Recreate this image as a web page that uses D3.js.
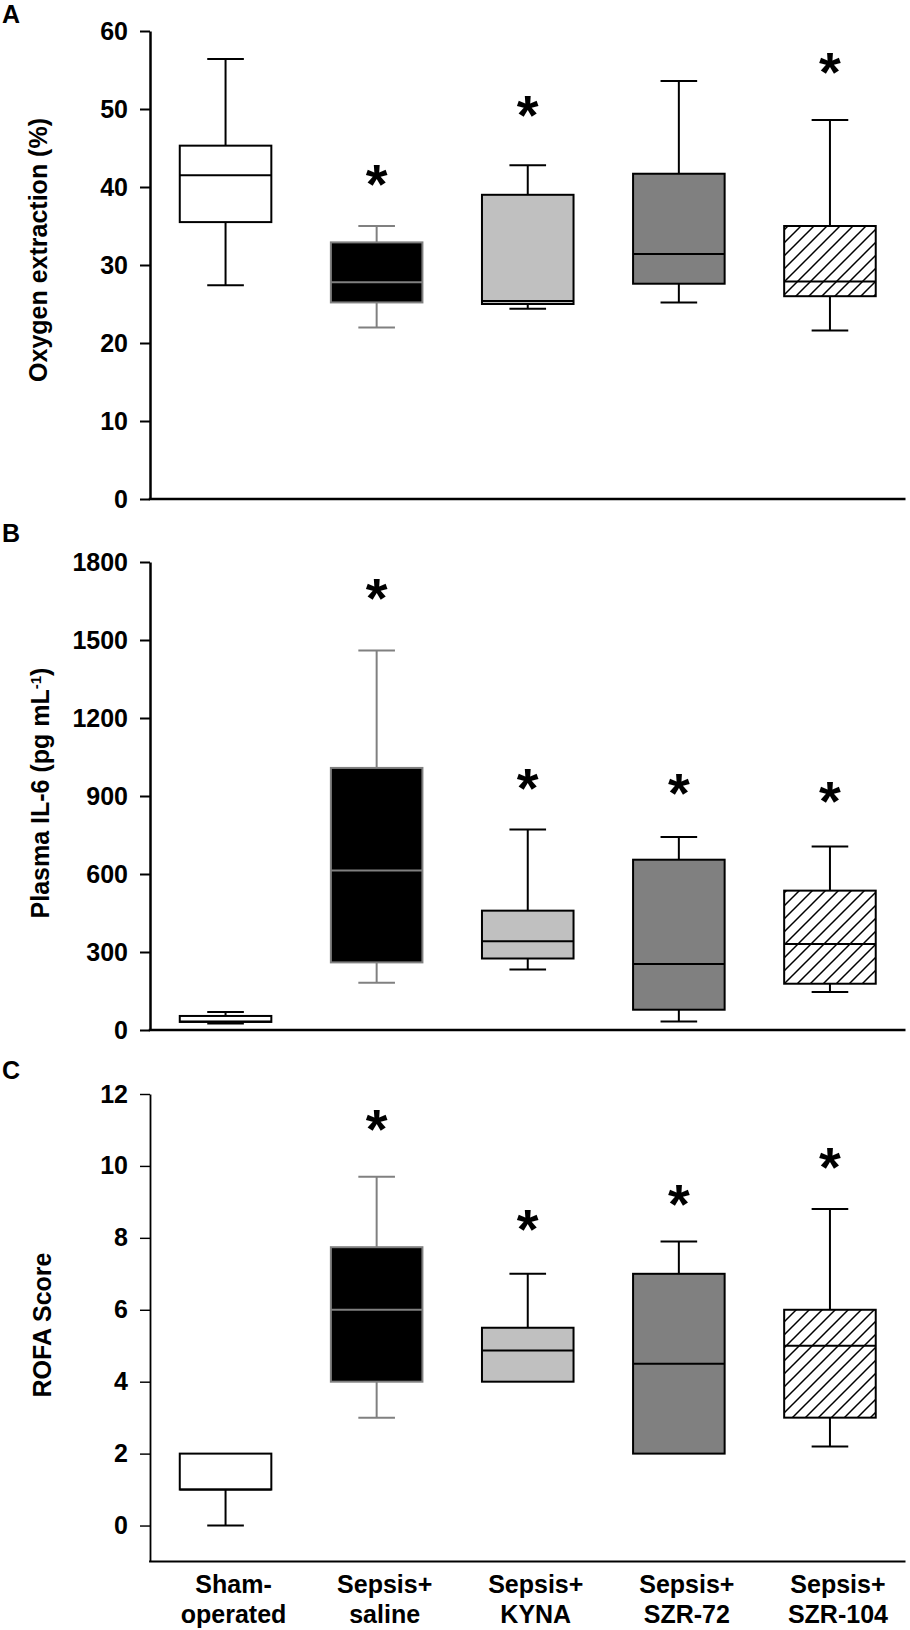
<!DOCTYPE html>
<html>
<head>
<meta charset="utf-8">
<script src="https://cdn.jsdelivr.net/npm/d3@7"></script>
<style>
  html, body { margin: 0; padding: 0; background: #fff; }
  svg { display: block; }
  text { font-family: "Liberation Sans", Arial, sans-serif; font-weight: bold; fill: #000; }
</style>
</head>
<body>
<svg id="chart" width="910" height="1630"></svg>
<script>
// ---------- data ----------
const groups = ["Sham-operated", "Sepsis+saline", "Sepsis+KYNA", "Sepsis+SZR-72", "Sepsis+SZR-104"];
const groupLabelLines = [["Sham-", "operated"], ["Sepsis+", "saline"], ["Sepsis+", "KYNA"], ["Sepsis+", "SZR-72"], ["Sepsis+", "SZR-104"]];

// Panel A: Oxygen extraction (%)
const oxyLow    = [27.4, 22.0, 24.4, 25.2, 21.6];
const oxyQ1     = [35.5, 25.2, 25.0, 27.6, 26.0];
const oxyMedian = [41.5, 27.8, 25.4, 31.4, 27.9];
const oxyQ3     = [45.3, 32.9, 39.0, 41.7, 35.0];
const oxyHigh   = [56.4, 35.0, 42.8, 53.6, 48.6];
const oxyStars  = [null, 42.0, 50.8, null, 56.3];
const oxyTicks  = [0, 10, 20, 30, 40, 50, 60];

// Panel B: Plasma IL-6 (pg/mL)
const il6Low    = [25, 182, 233, 33, 146];
const il6Q1     = [31, 260, 275, 78, 178];
const il6Median = [33, 613, 341, 254, 331];
const il6Q3     = [54, 1008, 459, 655, 536];
const il6High   = [69, 1460, 771, 742, 706];
const il6Stars  = [null, 1710, 980, 960, 930];
const il6Ticks  = [0, 300, 600, 900, 1200, 1500, 1800];

// Panel C: ROFA score
const rofaLow    = [0, 3.0, 4.0, 2.0, 2.2];
const rofaQ1     = [1, 4.0, 4.0, 2.0, 3.0];
const rofaMedian = [1, 6.0, 4.87, 4.5, 5.0];
const rofaQ3     = [2, 7.74, 5.5, 7.0, 6.0];
const rofaHigh   = [2, 9.7, 7.0, 7.9, 8.8];
const rofaStars  = [null, 11.37, 8.6, 9.29, 10.3];
const rofaTicks  = [0, 2, 4, 6, 8, 10, 12];

// ---------- styles ----------
const boxFill   = ["#ffffff", "#000000", "#c0c0c0", "#808080", "url(#hatch)"];
const boxStroke = ["#000000", "#808080", "#000000", "#000000", "#000000"];

const svg = d3.select("#chart");
const defs = svg.append("defs");
const pat = defs.append("pattern")
  .attr("id", "hatch").attr("patternUnits", "userSpaceOnUse")
  .attr("width", 13).attr("height", 13);
pat.append("rect").attr("width", 13).attr("height", 13).attr("fill", "#fff");
pat.append("path").attr("d", "M0,13 L13,0 M-3,3 L3,-3 M10,16 L16,10")
  .attr("stroke", "#000").attr("stroke-width", 1.5);

const FONT = 25;
const x = d3.scaleBand().domain(groups).range([150, 905.5]).paddingInner(0.394).paddingOuter(0.197);
const bw = x.bandwidth();
const capW = bw * 0.4;

function drawPanel(p) {
  const y = d3.scaleLinear().domain(p.domain).range(p.range);
  const g = svg.append("g");

  // panel letter
  g.append("text").attr("x", 2).attr("y", p.letterY).attr("font-size", FONT).text(p.letter);

  // y axis
  const ax = g.append("g").attr("transform", "translate(150,0)")
    .call(d3.axisLeft(y).tickValues(p.ticks).tickSize(10).tickSizeOuter(0).tickPadding(12).tickFormat(d3.format("d")));
  ax.select(".domain").attr("stroke", "#000").attr("stroke-width", p.axisW);
  ax.selectAll(".tick line").attr("stroke", "#000").attr("stroke-width", p.axisW * 0.8);
  ax.selectAll(".tick text").attr("font-size", FONT).attr("font-family", "Liberation Sans, Arial, sans-serif")
    .attr("font-weight", "bold").attr("fill", "#000");

  // x axis line
  g.append("line").attr("x1", x.range()[0] - p.axisW / 2).attr("x2", x.range()[1])
    .attr("y1", y(p.domain[0])).attr("y2", y(p.domain[0]))
    .attr("stroke", "#000").attr("stroke-width", p.axisW);

  // y title
  const ty = g.append("text").attr("font-size", FONT).attr("text-anchor", "middle")
    .attr("transform", `translate(${p.titleX},${p.titleY}) rotate(-90)`);
  p.title.forEach(part => {
    const t = ty.append("tspan").text(part.t);
    if (part.sup) t.attr("baseline-shift", "super").attr("font-size", FONT * 0.6);
  });

  const rows = groups.map((d, i) => ({
    g: d, i, low: p.low[i], q1: p.q1[i], med: p.med[i], q3: p.q3[i], high: p.high[i], star: p.stars[i]
  }));

  const bx = g.append("g");
  rows.forEach(r => {
    const cx = x(r.g) + bw / 2;
    const col = boxStroke[r.i];
    const gg = bx.append("g").attr("stroke", col).attr("stroke-width", 2).attr("fill", "none");
    if (r.high > r.q3) {
      gg.append("line").attr("x1", cx).attr("x2", cx).attr("y1", y(r.q3)).attr("y2", y(r.high));
      gg.append("line").attr("x1", cx - capW / 2).attr("x2", cx + capW / 2).attr("y1", y(r.high)).attr("y2", y(r.high));
    }
    if (r.low < r.q1) {
      gg.append("line").attr("x1", cx).attr("x2", cx).attr("y1", y(r.q1)).attr("y2", y(r.low));
      gg.append("line").attr("x1", cx - capW / 2).attr("x2", cx + capW / 2).attr("y1", y(r.low)).attr("y2", y(r.low));
    }
    gg.append("rect").attr("x", x(r.g)).attr("width", bw)
      .attr("y", y(r.q3)).attr("height", y(r.q1) - y(r.q3))
      .attr("fill", boxFill[r.i]);
    gg.append("line").attr("x1", x(r.g)).attr("x2", x(r.g) + bw)
      .attr("y1", y(r.med)).attr("y2", y(r.med));
    if (r.star != null) {
      const fs = 56;
      g.append("text").attr("x", cx).attr("y", y(r.star) + fs * 0.56)
        .attr("text-anchor", "middle").attr("font-size", fs).text("*");
    }
  });

  if (p.xLabels) {
    groups.forEach((d, i) => {
      const cx = x(d) + bw / 2 + 8;
      groupLabelLines[i].forEach((ln, k) => {
        g.append("text").attr("x", cx).attr("y", 1593 + k * 30)
          .attr("text-anchor", "middle").attr("font-size", FONT).text(ln);
      });
    });
  }
}

drawPanel({
  letter: "A", letterY: 23, domain: [0, 60], range: [499, 31], ticks: oxyTicks, axisW: 2.5,
  title: [{ t: "Oxygen extraction (%)" }], titleX: 47, titleY: 250,
  low: oxyLow, q1: oxyQ1, med: oxyMedian, q3: oxyQ3, high: oxyHigh, stars: oxyStars
});
drawPanel({
  letter: "B", letterY: 542, domain: [0, 1800], range: [1030, 562], ticks: il6Ticks, axisW: 2.5,
  title: [{ t: "Plasma IL-6 (pg mL" }, { t: "-1", sup: true }, { t: ")" }], titleX: 49, titleY: 793,
  low: il6Low, q1: il6Q1, med: il6Median, q3: il6Q3, high: il6High, stars: il6Stars
});
drawPanel({
  letter: "C", letterY: 1079, domain: [-1, 12], range: [1561.5, 1094], ticks: rofaTicks, axisW: 1.8,
  title: [{ t: "ROFA Score" }], titleX: 51, titleY: 1325,
  low: rofaLow, q1: rofaQ1, med: rofaMedian, q3: rofaQ3, high: rofaHigh, stars: rofaStars, xLabels: true
});
</script>
</body>
</html>
